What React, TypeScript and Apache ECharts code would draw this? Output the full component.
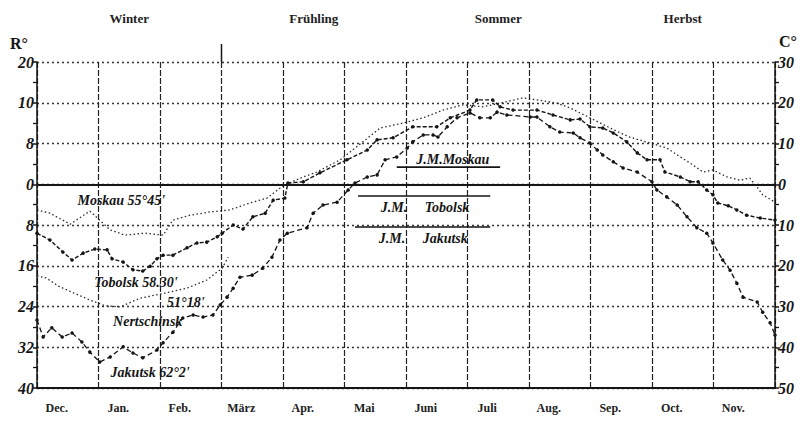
import React, { useEffect, useRef } from "react";
import * as echarts from "echarts";

const months = ["Dec.", "Jan.", "Feb.", "März", "Apr.", "Mai", "Juni", "Juli", "Aug.", "Sep.", "Oct.", "Nov."];
const seasons = ["Winter", "Frühling", "Sommer", "Herbst"];
const yTicksC = [30, 20, 10, 0, -10, -20, -30, -40, -50];
const leftTickLabels = ["20", "10", "8", "0", "8", "16", "24", "32", "40"];
const rightTickLabels = ["30", "20", "10", "0", "10", "20", "30", "40", "50"];

// [months since 1 Dec, °C]
const moskau: number[][] = [
  [0, -6.3], [0.21, -7.1], [0.54, -9.8], [0.86, -6.6], [1.19, -11.2], [1.43, -12.5], [1.76, -12.0],
  [2.05, -12.5], [2.21, -8.8], [2.49, -7.6], [2.81, -6.8], [3.14, -6.3], [3.46, -4.6], [3.74, -3.4],
  [4.0, -0.4], [4.28, 1.5], [4.55, 3.0], [4.93, 6.0], [5.3, 10.4], [5.58, 13.8], [5.95, 15.0],
  [6.28, 16.3], [6.6, 18.2], [6.93, 19.5], [7.25, 19.0], [7.53, 19.9], [7.9, 21.2], [8.13, 20.7],
  [8.46, 19.9], [8.67, 18.7], [8.99, 16.3], [9.32, 13.8], [9.63, 11.6], [9.97, 10.1], [10.24, 8.9],
  [10.46, 6.7], [10.62, 5.2], [10.83, 3.0], [10.99, 3.5], [11.22, 1.8], [11.43, 1.0], [11.59, 1.5],
  [11.71, -0.7], [11.8, -2.6], [12, -4.4],
];
const tobolsk: number[][] = [
  [0, -12.0], [0.21, -13.7], [0.42, -16.6], [0.57, -18.6], [0.75, -16.9], [0.94, -15.9], [1.14, -16.1],
  [1.22, -18.3], [1.4, -19.1], [1.56, -21.0], [1.72, -21.3], [1.84, -20.1], [1.95, -18.3], [2.05, -17.4],
  [2.21, -17.4], [2.44, -15.6], [2.6, -14.4], [2.76, -14.2], [2.93, -12.9], [3.01, -12.0], [3.19, -10.0],
  [3.35, -11.0], [3.51, -8.0], [3.71, -7.1], [3.84, -3.9], [4.03, -3.4], [4.08, 0.3], [4.33, 0.6],
  [4.6, 2.8], [5.04, 6.0], [5.37, 8.4], [5.53, 10.9], [5.79, 11.4], [6.11, 14.1], [6.5, 14.1],
  [6.72, 16.3], [7.04, 18.2], [7.15, 20.7], [7.41, 20.7], [7.53, 19.0], [7.74, 18.2], [8.13, 18.2],
  [8.39, 17.0], [8.67, 15.8], [8.83, 16.0], [8.99, 14.1], [9.2, 13.8], [9.37, 12.6], [9.59, 10.4],
  [9.76, 7.7], [9.92, 6.0], [10.13, 6.0], [10.21, 3.0], [10.46, 1.8], [10.62, 0.6], [10.75, 0.6],
  [10.89, -1.4], [10.99, -2.6], [11.07, -4.6], [11.24, -5.3], [11.38, -6.3], [11.54, -7.6],
  [11.76, -8.3], [12, -8.8],
];
const nertschinsk: number[][] = [
  [0, -22.5], [0.15, -23.0], [0.35, -25.0], [0.6, -26.7], [0.86, -28.4], [1.1, -29.8], [1.35, -30.1],
  [1.67, -28.0], [2.05, -26.8], [2.44, -25.5], [2.76, -23.5], [3.01, -20.6], [3.11, -17.9],
];
const jakutsk: number[][] = [
  [0, -33.3], [0.1, -37.5], [0.24, -35.2], [0.41, -37.5], [0.57, -36.5], [0.73, -38.7], [0.86, -41.2],
  [1.02, -43.6], [1.19, -42.4], [1.4, -39.9], [1.56, -41.4], [1.72, -42.6], [1.95, -40.7], [2.05, -38.9],
  [2.21, -36.3], [2.37, -32.8], [2.54, -32.1], [2.7, -32.6], [2.86, -32.1], [2.98, -29.6], [3.09, -27.7],
  [3.19, -25.5], [3.3, -22.8], [3.5, -22.3], [3.67, -20.6], [3.82, -17.9], [3.95, -13.7], [4.07, -12.0],
  [4.39, -10.7], [4.49, -7.1], [4.65, -5.1], [4.88, -4.4], [5.06, -1.4], [5.17, 0.3], [5.37, 1.8],
  [5.53, 2.3], [5.66, 6.0], [5.85, 6.7], [6.02, 8.9], [6.11, 10.4], [6.28, 12.1], [6.44, 12.1],
  [6.52, 11.6], [6.67, 14.1], [6.83, 16.3], [7.04, 17.5], [7.2, 16.3], [7.37, 16.3], [7.48, 17.7],
  [7.64, 17.0], [8.02, 16.5], [8.13, 16.5], [8.34, 14.1], [8.5, 12.8], [8.72, 12.6], [8.83, 11.4],
  [8.99, 10.1], [9.11, 8.4], [9.2, 7.2], [9.37, 5.5], [9.53, 4.0], [9.76, 3.0], [10.0, 0.6],
  [10.08, -1.4], [10.24, -3.1], [10.41, -5.1], [10.57, -8.0], [10.73, -10.7], [10.89, -12.0],
  [10.99, -14.4], [11.15, -18.6], [11.27, -21.1], [11.38, -24.3], [11.48, -27.7], [11.71, -28.9],
  [11.8, -31.4], [11.92, -34.0], [12, -37.0],
];

// Jahresmittel (annual means, °C) and the span of their short marker lines (months)
const jmMoskau = 4.2;
const jmTobolsk = -2.9;
const jmJakutsk = -10.5;
const jmMoskauSpan = [5.85, 7.53];
const jmTobolskSpan = [5.22, 7.37];
const jmJakutskSpan = [5.17, 7.37];

const INK = "#151515";
const SERIF = '"Liberation Serif", "DejaVu Serif", serif';

export default function App() {
  const ref = useRef<HTMLDivElement>(null);
  useEffect(() => {
    if (!ref.current) return;
    const chart = echarts.init(ref.current, undefined, { renderer: "svg" });
    const dotted = { color: "#2a2a2a", width: 1.3, type: [1.5, 2.5] as any };
    const option: any = {
      animation: false,
      backgroundColor: "#ffffff",
      grid: { left: 37, right: 27, top: 62, bottom: 47, containLabel: false },
      xAxis: [
        {
          type: "value", min: 0, max: 12, interval: 1, position: "bottom",
          axisLine: { show: true, onZero: false, lineStyle: { color: INK, width: 2.2 } },
          axisTick: { show: false }, axisLabel: { show: false },
          splitLine: { show: true, lineStyle: { color: "#222", width: 1.2, type: [6, 2] } },
        },
        {
          type: "category", data: months, position: "bottom", boundaryGap: true,
          axisLine: { show: false, onZero: false }, axisTick: { show: false }, splitLine: { show: false },
          axisLabel: { margin: 14, color: "#222", fontFamily: SERIF, fontWeight: "bold", fontSize: 12, padding: [0, 22, 0, 0] },
        },
        {
          type: "category", data: seasons, position: "top", boundaryGap: true,
          axisLine: { show: false, onZero: false }, axisTick: { show: false }, splitLine: { show: false },
          axisLabel: { margin: 37, color: "#222", fontFamily: SERIF, fontWeight: "bold", fontSize: 13 },
        },
      ],
      yAxis: [
        {
          type: "value", min: -50, max: 30, interval: 10, position: "left",
          axisLine: { show: true, onZero: false, lineStyle: { color: INK, width: 1.5 } },
          axisTick: { show: true, length: 4, lineStyle: { color: INK, width: 1.5 } },
          minorTick: { show: true, splitNumber: 2, length: 4, lineStyle: { color: INK, width: 1.3 } },
          splitLine: { show: true, lineStyle: { color: "#333", width: 1.3, type: [2, 3] } },
          axisLabel: {
            margin: 3, color: INK, fontFamily: SERIF, fontStyle: "italic", fontWeight: "bold", fontSize: 16,
            formatter: (v: number) => leftTickLabels[yTicksC.indexOf(v)] ?? "",
          },
        },
        {
          type: "value", min: -50, max: 30, interval: 10, position: "right",
          axisLine: { show: true, onZero: false, lineStyle: { color: INK, width: 1.5 } },
          axisTick: { show: true, length: 4, lineStyle: { color: INK, width: 1.5 } },
          minorTick: { show: true, splitNumber: 2, length: 4, lineStyle: { color: INK, width: 1.3 } },
          splitLine: { show: false },
          axisLabel: {
            margin: 3, color: INK, fontFamily: SERIF, fontStyle: "italic", fontWeight: "bold", fontSize: 16,
            formatter: (v: number) => rightTickLabels[yTicksC.indexOf(v)] ?? "",
          },
        },
      ],
      series: [
        {
          name: "Moskau", type: "line", data: moskau, showSymbol: false, lineStyle: dotted,
          markLine: {
            silent: true, symbol: ["none", "none"], label: { show: false },
            lineStyle: { color: INK, width: 2.2, type: "solid" },
            data: [{ yAxis: 0 }],
          },
        },
        {
          name: "Tobolsk", type: "line", data: tobolsk, symbol: "circle", symbolSize: 3.5,
          itemStyle: { color: INK }, lineStyle: { color: INK, width: 1.4, type: [4, 2] },
        },
        { name: "Nertschinsk", type: "line", data: nertschinsk, showSymbol: false, lineStyle: dotted },
        {
          name: "Jakutsk", type: "line", data: jakutsk, symbol: "circle", symbolSize: 3.5,
          itemStyle: { color: INK }, lineStyle: { color: INK, width: 1.3, type: [5, 3] },
        },
        {
          name: "J.M. Moskau", type: "line", showSymbol: false, lineStyle: { color: INK, width: 1.6 },
          data: jmMoskauSpan.map((t) => [t, jmMoskau]),
        },
        {
          name: "J.M. Tobolsk", type: "line", showSymbol: false, lineStyle: { color: INK, width: 1.6 },
          data: jmTobolskSpan.map((t) => [t, jmTobolsk]),
        },
        {
          name: "J.M. Jakutsk", type: "line", showSymbol: false, lineStyle: { color: INK, width: 1.6 },
          data: jmJakutskSpan.map((t) => [t, jmJakutsk]),
        },
      ],
    };
    chart.setOption(option);

    const P = (t: number, c: number) => chart.convertToPixel({ xAxisIndex: 0, yAxisIndex: 0 }, [t, c]) as number[];
    const lab = (t: number, c: number, text: string, size = 14) => {
      const [x, y] = P(t, c);
      return {
        type: "text", x, y, silent: true,
        style: { text, font: `italic bold ${size}px ${SERIF}`, fill: INK, align: "center", verticalAlign: "middle" },
      };
    };
    const [sx, sTop] = P(3, 30);
    const [, yTop] = P(0, 30);
    const [xLeft] = P(0, 30);
    const [xRight] = P(12, 30);
    chart.setOption({
      graphic: [
        lab(1.37, -3.9, "Moskau 55°45'"),
        lab(1.61, -24.0, "Tobolsk 58.30'"),
        lab(2.42, -28.9, "51°18'"),
        lab(1.8, -33.8, "Nertschinsk"),
        lab(1.84, -46.1, "Jakutsk 62°2'"),
        lab(6.76, jmMoskau + 1.8, "J.M.Moskau"),
        lab(6.31, jmTobolsk - 2.9, "J.M.     Tobolsk"),
        lab(6.28, jmJakutsk - 2.8, "J.M.     Jakutsk"),
        { type: "line", silent: true, shape: { x1: sx, y1: sTop - 18, x2: sx, y2: sTop }, style: { stroke: INK, lineWidth: 1.5 } },
        {
          type: "text", x: xLeft - 18, y: yTop - 19, silent: true,
          style: { text: "R°", font: `bold 16px ${SERIF}`, fill: INK, align: "center", verticalAlign: "middle" },
        },
        {
          type: "text", x: xRight + 13, y: yTop - 21, silent: true,
          style: { text: "C°", font: `bold 16px ${SERIF}`, fill: INK, align: "center", verticalAlign: "middle" },
        },
      ],
    });
    return () => chart.dispose();
  }, []);
  return <div ref={ref} style={{ position: "absolute", left: 0, top: 0, width: 802, height: 435, background: "#fff" }} />;
}
